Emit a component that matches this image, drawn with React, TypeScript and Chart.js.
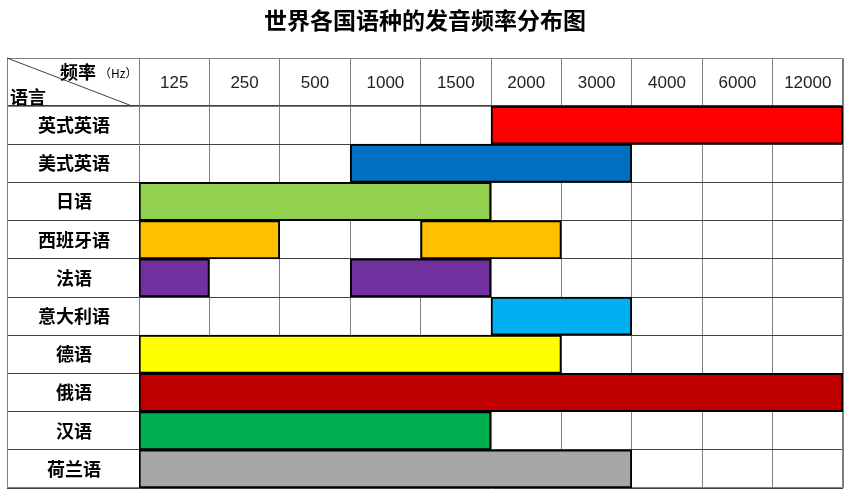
import React, { useEffect, useRef } from "react";
import { Chart, registerables } from "chart.js";

Chart.register(...registerables);

const titleText = "世界各国语种的发音频率分布图";
const languages = ["英式英语", "美式英语", "日语", "西班牙语", "法语", "意大利语", "德语", "俄语", "汉语", "荷兰语"];
const frequencies = ["125", "250", "500", "1000", "1500", "2000", "3000", "4000", "6000", "12000"];
// band index ranges (column start, column end) on the frequency grid
const rangeStart = [5, 3, 0, 0, 0, 5, 0, 0, 0, 0];
const rangeEnd = [10, 7, 5, 2, 1, 7, 6, 10, 5, 7];
const secondStart: (number | null)[] = [null, null, null, 4, 3, null, null, null, null, null];
const secondEnd: (number | null)[] = [null, null, null, 6, 5, null, null, null, null, null];
const barColors = ["#FF0000", "#0070C0", "#92D050", "#FFC000", "#7030A0", "#00B0F0", "#FFFF00", "#C00000", "#00B050", "#A6A6A6"];

const CJK = '"Noto Sans CJK SC", "Noto Sans", sans-serif';
const GRID = "#7f7f7f";

const cornerPlugin = {
  id: "cornerCell",
  beforeDatasetsDraw(chart: any) {
    const { ctx, chartArea } = chart;
    const y = chart.scales.y;
    const x2 = chart.scales.x2;
    const left = y.left;
    const top = x2.top;
    ctx.save();
    ctx.strokeStyle = GRID;
    ctx.lineWidth = 1;
    ctx.beginPath();
    ctx.rect(left + 0.5, top + 0.5, chartArea.right - left - 1, chartArea.bottom - top - 1);
    ctx.moveTo(left, chartArea.top + 0.5);
    ctx.lineTo(chartArea.left, chartArea.top + 0.5);
    ctx.moveTo(chartArea.left + 0.5, top);
    ctx.lineTo(chartArea.left + 0.5, chartArea.top);
    ctx.stroke();
    // diagonal
    ctx.strokeStyle = "#404040";
    ctx.beginPath();
    ctx.moveTo(left, top);
    ctx.lineTo(chartArea.left - 7, chartArea.top);
    ctx.stroke();
    ctx.fillStyle = "#000";
    ctx.textBaseline = "middle";
    ctx.textAlign = "left";
    ctx.font = `bold 18px ${CJK}`;
    ctx.fillText("频率", left + 53, top + 14);
    ctx.font = `12px ${CJK}`;
    ctx.fillText("（Hz）", left + 92, top + 15);
    ctx.font = `bold 18px ${CJK}`;
    ctx.fillText("语言", left + 3, top + 39);
    ctx.restore();
  },
};

export default function App() {
  const ref = useRef<HTMLCanvasElement>(null);
  useEffect(() => {
    document.body.style.margin = "0";
    const canvas = ref.current!;
    const chart = new Chart(canvas, {
      type: "bar",
      data: {
        labels: languages,
        datasets: [
          {
            data: languages.map((_, i) => [rangeStart[i], rangeEnd[i]]) as any,
            backgroundColor: barColors,
            borderColor: "#000",
            borderWidth: 2,
            borderSkipped: false,
            grouped: false,
            barPercentage: 1,
            categoryPercentage: 1,
            xAxisID: "x",
            yAxisID: "y",
          } as any,
          {
            data: languages.map((_, i) =>
              secondStart[i] == null ? null : [secondStart[i], secondEnd[i]]
            ) as any,
            backgroundColor: barColors,
            borderColor: "#000",
            borderWidth: 2,
            borderSkipped: false,
            grouped: false,
            barPercentage: 1,
            categoryPercentage: 1,
            xAxisID: "x",
            yAxisID: "y",
          } as any,
        ],
      },
      options: {
        indexAxis: "y",
        responsive: true,
        maintainAspectRatio: false,
        animation: false,
        layout: { padding: { left: 7, right: 7, top: 0, bottom: 8 } },
        plugins: {
          legend: { display: false },
          tooltip: { enabled: false },
          title: {
            display: true,
            text: titleText,
            color: "#000",
            font: { family: CJK, size: 23, weight: "bold" },
            padding: { top: 6, bottom: 24.4 },
          },
        },
        scales: {
          x: { type: "linear", min: 0, max: 10, display: false },
          x2: {
            type: "category",
            labels: frequencies,
            position: "top",
            offset: true,
            grid: { offset: true, color: GRID, tickLength: 48, drawTicks: true },
            border: { color: GRID },
            ticks: {
              padding: -36,
              color: "#222",
              font: { family: '"Liberation Sans", Arial, sans-serif', size: 17 },
              maxRotation: 0,
              autoSkip: false,
            },
            afterFit: (s: any) => {
              s.height = 48;
            },
          } as any,
          y: {
            type: "category",
            offset: true,
            grid: { offset: true, color: "#404040", tickLength: 132, drawTicks: true },
            border: { color: GRID },
            ticks: {
              crossAlign: "center",
              padding: -103,
              color: "#000",
              font: { family: CJK, size: 18, weight: "bold" },
              autoSkip: false,
            },
            afterFit: (s: any) => {
              s.width = 132;
            },
          } as any,
        },
      },
      plugins: [cornerPlugin],
    });
    return () => chart.destroy();
  }, []);
  return (
    <div style={{ position: "relative", width: 850, height: 496 }}>
      <canvas ref={ref} />
    </div>
  );
}
